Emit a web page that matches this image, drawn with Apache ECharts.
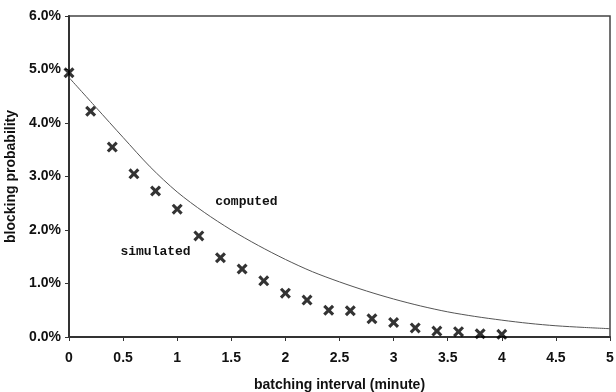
<!DOCTYPE html>
<html>
<head>
<meta charset="utf-8">
<script src="https://cdn.jsdelivr.net/npm/echarts@6/dist/echarts.min.js"></script>
<style>
  html, body { margin: 0; padding: 0; background: #fff; }
  #chart { width: 616px; height: 392px; }
</style>
</head>
<body>
<div id="chart"></div>
<script>
// simulated blocking probability (%), one point every 0.2 minute
const simX = [0, 0.2, 0.4, 0.6, 0.8, 1.0, 1.2, 1.4, 1.6, 1.8, 2.0, 2.2, 2.4, 2.6, 2.8, 3.0, 3.2, 3.4, 3.6, 3.8, 4.0]
const simY = [4.94, 4.22, 3.55, 3.05, 2.73, 2.39, 1.89, 1.48, 1.27, 1.05, 0.82, 0.69, 0.50, 0.49, 0.34, 0.27, 0.17, 0.11, 0.10, 0.06, 0.05]

// computed curve
const compX = [0, 0.25, 0.5, 0.75, 1.0, 1.25, 1.5, 1.75, 2.0, 2.25, 2.5, 2.75, 3.0, 3.25, 3.5, 3.75, 4.0, 4.25, 4.5, 4.75, 5.0]
const compY = [4.85, 4.29, 3.73, 3.18, 2.71, 2.33, 2.00, 1.71, 1.45, 1.22, 1.03, 0.86, 0.71, 0.58, 0.47, 0.385, 0.315, 0.255, 0.21, 0.18, 0.155]

const xTicks = [0, 0.5, 1, 1.5, 2, 2.5, 3, 3.5, 4, 4.5, 5]
const yTicks = [0, 1, 2, 3, 4, 5, 6]

// text annotations placed in data coordinates
const notes = [
  { text: 'computed', at: [1.64, 2.52] },
  { text: 'simulated', at: [0.80, 1.59] }
]

const crossPath = 'path://M0,2 L2,0 L5,3 L8,0 L10,2 L7,5 L10,8 L8,10 L5,7 L2,10 L0,8 L3,5 Z'

const chart = echarts.init(document.getElementById('chart'))

const labelFont = {
  fontFamily: 'Liberation Sans',
  fontWeight: 'bold',
  fontSize: 14,
  color: '#111'
}

const option = {
  animation: false,
  backgroundColor: '#fff',
  grid: {
    left: 69,
    right: 6,
    top: 16,
    bottom: 55,
    containLabel: false,
    outerBoundsMode: 'none',
    show: true,
    borderColor: '#444',
    borderWidth: 1.5
  },
  xAxis: {
    type: 'value',
    min: xTicks[0],
    max: xTicks[xTicks.length - 1],
    interval: 0.5,
    name: 'batching interval (minute)',
    nameLocation: 'middle',
    nameGap: 41,
    nameTextStyle: labelFont,
    axisLine: { lineStyle: { color: '#333', width: 2 } },
    axisTick: { show: true, length: 4, lineStyle: { color: '#333' } },
    splitLine: { show: false },
    axisLabel: Object.assign({ margin: 14, formatter: v => String(v) }, labelFont)
  },
  yAxis: {
    type: 'value',
    min: yTicks[0],
    max: yTicks[yTicks.length - 1],
    interval: 1,
    name: 'blocking probability',
    nameLocation: 'middle',
    nameGap: 47,
    nameTextStyle: labelFont,
    axisLine: { show: true, lineStyle: { color: '#333', width: 2 } },
    axisTick: { show: true, length: 4, lineStyle: { color: '#333' } },
    splitLine: { show: false },
    axisLabel: Object.assign({ margin: 8, formatter: v => v.toFixed(1) + '%' }, labelFont)
  },
  series: [
    {
      name: 'computed',
      type: 'line',
      smooth: 0.3,
      showSymbol: false,
      data: compX.map((x, i) => [x, compY[i]]),
      lineStyle: { color: '#555', width: 1 },
      z: 2
    },
    {
      name: 'simulated',
      type: 'scatter',
      symbol: crossPath,
      symbolSize: 11,
      data: simX.map((x, i) => [x, simY[i]]),
      itemStyle: { color: '#000' },
      z: 3
    }
  ]
}

chart.setOption(option)

chart.setOption({
  graphic: notes.map(n => {
    const p = chart.convertToPixel({ gridIndex: 0 }, n.at)
    return {
      type: 'text',
      x: p[0],
      y: p[1],
      style: {
        text: n.text,
        fontFamily: 'Liberation Mono',
        fontWeight: 'bold',
        fontSize: 13,
        fill: '#111',
        align: 'center',
        verticalAlign: 'middle'
      }
    }
  })
})
</script>
</body>
</html>
